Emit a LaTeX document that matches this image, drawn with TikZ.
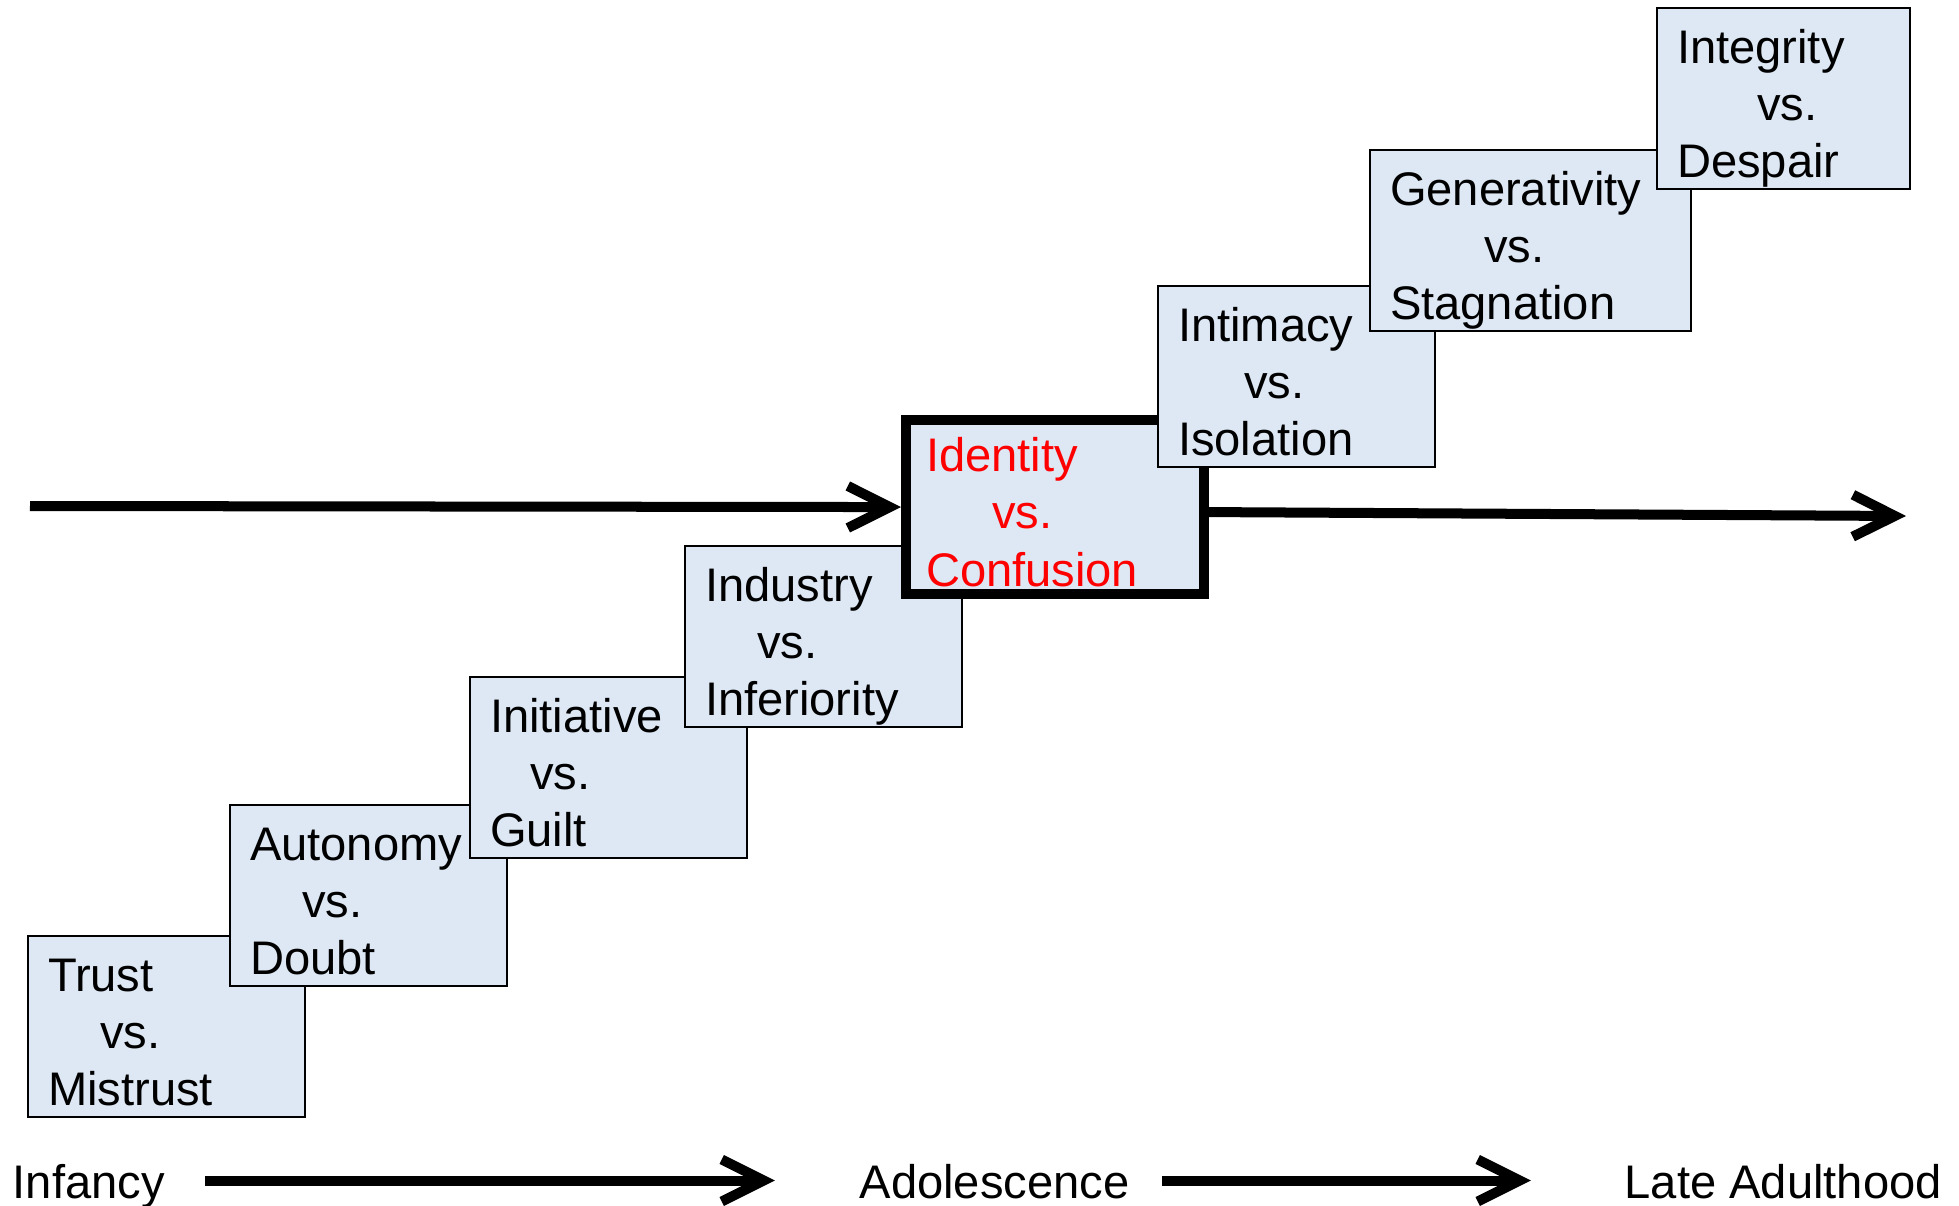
\documentclass[tikz,border=0pt]{standalone}
\usepackage{fontspec}
\setmainfont{Liberation Sans}
\usepackage{xcolor}
\usetikzlibrary{arrows.meta, positioning}
\definecolor{stageblue}{RGB}{221,232,244}
\tikzset{
  stagebox/.style={draw, fill=stageblue, line width=0.02cm, anchor=north west, align=left,
    inner xsep=0.2cm, inner ysep=0pt, minimum height=1.81cm, text width=#1,
    text height=0.26cm, text depth=0.97cm,
    font=\fontsize{13.4pt}{16.3pt}\selectfont},
  stagebox/.default=2.37cm,
  agearrow/.style={line width=0.1cm, -{Straight Barb[length=0.42cm, width=0.42cm]}},
  agelabel/.style={anchor=base west, inner sep=0pt, text height=0.35cm, text depth=0pt,
    font=\fontsize{13.4pt}{15.9pt}\selectfont}
}

\begin{document}
\begin{tikzpicture}[x=0.01cm, y=-0.01cm]
\useasboundingbox (0,0) rectangle (1959,1205);
% the eight stages, lowest first so each one lies over the one before
\node[stagebox] (trust) at (27,935) {Trust\\\hspace*{0.52cm}vs.\\Mistrust};
\node[stagebox] (autonomy) at (229,804) {Autonomy\\\hspace*{0.52cm}vs.\\Doubt};
\node[stagebox] (initiative) at (469,676) {Initiative\\\hspace*{0.40cm}vs.\\Guilt};
\node[stagebox] (industry) at (684,545) {Industry\\\hspace*{0.52cm}vs.\\Inferiority};
\node[stagebox=2.58cm, line width=0.1cm, minimum height=1.74cm, text=red] (identity) at (901,415) {Identity\\\hspace*{0.66cm}vs.\\Confusion};
\node[stagebox] (intimacy) at (1157,285) {Intimacy\\\hspace*{0.66cm}vs.\\Isolation};
\node[stagebox=2.81cm] (generativity) at (1369,149) {Generativity\\\hspace*{0.94cm}vs.\\Stagnation};
\node[stagebox=2.13cm] (integrity) at (1656,7) {Integrity\\\hspace*{0.80cm}vs.\\Despair};

% life line through the highlighted stage
\coordinate (start) at (30,506);
\coordinate (finish) at (1906,516);
\draw[agearrow] (start) -- (identity.west);
\draw[agearrow] ([yshift=-0.05cm]identity.east) -- (finish);

% age scale
\node[agelabel] (infancy) at (12,1198) {Infancy};
\node[agelabel] (adolescence) at (859,1198) {Adolescence};
\node[agelabel] (late) at (1624,1198) {Late Adulthood};
\draw[agearrow] ([xshift=0.4cm]infancy.east) -- ([xshift=-0.84cm]adolescence.west);
\draw[agearrow] ([xshift=0.32cm]adolescence.east) -- ([xshift=-0.93cm]late.west);
\end{tikzpicture}
\end{document}
